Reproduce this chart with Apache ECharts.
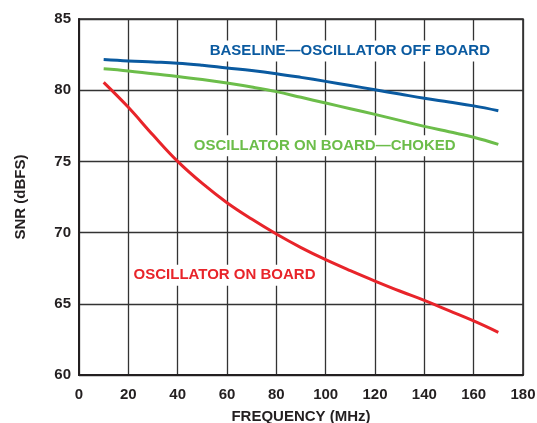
<!DOCTYPE html>
<html><head><meta charset="utf-8">
<script src="https://cdn.jsdelivr.net/npm/echarts@6/dist/echarts.min.js"></script>
<style>html,body{margin:0;padding:0;background:#fff}#c{width:537px;height:423px}</style>
</head><body><div id="c"></div>
<script>
const freq = [10, 20, 30, 40, 50, 60, 70, 80, 90, 100, 110, 120, 130, 140, 150, 160, 170];
const baseline = [82.15, 82.05, 81.98, 81.9, 81.75, 81.56, 81.38, 81.16, 80.9, 80.62, 80.33, 80.03, 79.73, 79.43, 79.17, 78.9, 78.56];
const choked = [81.5, 81.35, 81.15, 80.97, 80.75, 80.5, 80.22, 79.9, 79.5, 79.1, 78.7, 78.3, 77.88, 77.46, 77.08, 76.7, 76.2];
const onBoard = [80.55, 78.8, 76.85, 75.0, 73.45, 72.1, 70.95, 69.9, 68.95, 68.1, 67.33, 66.6, 65.9, 65.24, 64.52, 63.8, 63.0];
const xTicks = [0, 20, 40, 60, 80, 100, 120, 140, 160, 180];
const yTicks = [60, 65, 70, 75, 80, 85];
const labels = [
  {text: 'BASELINE\u2014OSCILLATOR OFF BOARD', coord: [109.8, 82.75], color: '#0a5aa0'},
  {text: 'OSCILLATOR ON BOARD\u2014CHOKED', coord: [99.6, 76.1], color: '#6cbd4a'},
  {text: 'OSCILLATOR ON BOARD', coord: [59.0, 67.0], color: '#e8242a'}
];
const colors = ['#0a5aa0', '#6cbd4a', '#e8242a'];
const seriesData = [baseline, choked, onBoard];

const chart = echarts.init(document.getElementById('c'));
const font = 'Liberation Sans, Arial, sans-serif';
chart.setOption({
  animation: false,
  grid: {left: 79, right: 14, top: 19, bottom: 48, show: true, borderColor: '#231f20', borderWidth: 1.5,
    containLabel: false, outerBoundsMode: 'none'},
  xAxis: {
    type: 'value', min: 0, max: 180, interval: 20,
    name: 'FREQUENCY (MHz)', nameLocation: 'middle', nameGap: 34,
    nameTextStyle: {fontFamily: font, fontWeight: 'bold', fontSize: 15, color: '#231f20'},
    axisLine: {show: true, lineStyle: {color: '#231f20', width: 2}},
    axisTick: {show: false},
    axisLabel: {fontFamily: font, fontWeight: 'bold', fontSize: 15, color: '#231f20', margin: 12,
      formatter: v => xTicks.includes(v) ? String(v) : ''},
    splitLine: {show: true, lineStyle: {color: '#333', width: 1.3}}
  },
  yAxis: {
    type: 'value', min: 60, max: 85, interval: 5,
    name: 'SNR (dBFS)', nameLocation: 'middle', nameGap: 51,
    nameTextStyle: {fontFamily: font, fontWeight: 'bold', fontSize: 15, color: '#231f20'},
    axisLine: {show: true, lineStyle: {color: '#231f20', width: 2}},
    axisTick: {show: false},
    axisLabel: {fontFamily: font, fontWeight: 'bold', fontSize: 15, color: '#231f20', margin: 8,
      formatter: v => yTicks.includes(v) ? String(v) : ''},
    splitLine: {show: true, lineStyle: {color: '#333', width: 1.3}}
  },
  series: seriesData.map((d, i) => ({
    type: 'line', smooth: 0.4, symbol: 'none', z: 3,
    data: d.map((v, j) => [freq[j], v]),
    lineStyle: {color: colors[i], width: 3},
    markPoint: {
      symbol: 'rect', symbolSize: 1, itemStyle: {color: 'rgba(0,0,0,0)'},
      data: [{coord: labels[i].coord}],
      label: {show: true, position: 'inside', formatter: labels[i].text, fontFamily: font, fontWeight: 'bold', fontSize: 15,
        color: labels[i].color, backgroundColor: '#fff', padding: [3, 2]}
    }
  }))
});
</script></body></html>
